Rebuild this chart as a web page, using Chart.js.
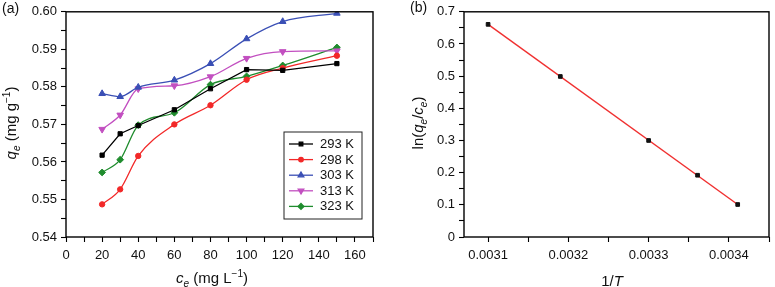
<!DOCTYPE html>
<html>
<head>
<meta charset="utf-8">
<script src="https://cdn.jsdelivr.net/npm/chart.js@4.4.0/dist/chart.umd.min.js"></script>
<style>
  body { margin: 0; background: #fff; }
  #wrap { position: relative; width: 775px; height: 287px; }
  .pane { position: absolute; top: 0; height: 287px; }
</style>
</head>
<body>
<div id="wrap">
  <div class="pane" style="left:0;width:390px"><canvas id="chartA" width="390" height="287"></canvas></div>
  <div class="pane" style="left:390px;width:385px"><canvas id="chartB" width="385" height="287"></canvas></div>
</div>
<script>
// (a) qe vs ce for each temperature
const ce = [20, 30, 40, 60, 80, 100, 120, 150];
const q293 = [0.5618, 0.5675, 0.5697, 0.5739, 0.5795, 0.5846, 0.5844, 0.5862];
const q298 = [0.5487, 0.5527, 0.5616, 0.5700, 0.5751, 0.5819, 0.5850, 0.5883];
const q303 = [0.5782, 0.5774, 0.5799, 0.5818, 0.5862, 0.5928, 0.5974, 0.5996];
const q313 = [0.5687, 0.5725, 0.5795, 0.5803, 0.5827, 0.5876, 0.5894, 0.5896];
const q323 = [0.5572, 0.5606, 0.5698, 0.5731, 0.5806, 0.5828, 0.5857, 0.5905];
const tempLabels = ['293 K', '298 K', '303 K', '313 K', '323 K'];

// (b) ln(qe/ce) vs 1/T
const invT = [0.00310, 0.00319, 0.00330, 0.003361, 0.003411];
const lnK = [0.661, 0.499, 0.300, 0.192, 0.101];

// tick labels
const aXLabels = [0, 20, 40, 60, 80, 100, 120, 140, 160];
const aYLabels = [0.54, 0.55, 0.56, 0.57, 0.58, 0.59, 0.60];
const bXLabels = [0.0031, 0.0032, 0.0033, 0.0034];
const bYLabels = [0, 0.1, 0.2, 0.3, 0.4, 0.5, 0.6, 0.7];

const FONT = '"Liberation Sans", Arial, Helvetica, sans-serif';
const TXT = '#111';

// build minor+major tick list between lo and hi (in steps)
function tickList(lo, n, step, dec) {
  let out = [];
  for (let i = 0; i <= n; i++) out.push({ value: +(lo + i * step).toFixed(dec) });
  return out;
}
function isLabel(v, arr) {
  return arr.some(a => Math.abs(a - v) < 1e-9);
}

// draws text made of styled pieces (italic / sub / sup), centred on x,y
function drawRich(ctx, parts, x, y, size, rotate) {
  ctx.save();
  ctx.translate(x, y);
  if (rotate) ctx.rotate(-Math.PI / 2);
  const fontFor = p => (p.i ? 'italic ' : '') + (p.s ? Math.round(size * 0.68) : size) + 'px ' + FONT;
  let total = 0;
  parts.forEach(p => { ctx.font = fontFor(p); p.w = ctx.measureText(p.t).width; total += p.w; });
  let cx = -total / 2;
  ctx.textBaseline = 'alphabetic';
  ctx.textAlign = 'left';
  ctx.fillStyle = TXT;
  parts.forEach(p => {
    ctx.font = fontFor(p);
    const dy = p.s === 'sub' ? size * 0.22 : (p.s === 'sup' ? -size * 0.42 : 0);
    ctx.fillText(p.t, cx, size * 0.36 + dy);
    cx += p.w;
  });
  ctx.restore();
}

function frame(ctx, area) {
  ctx.save();
  ctx.strokeStyle = '#000';
  ctx.lineWidth = 1.4;
  ctx.strokeRect(area.left, area.top, area.right - area.left, area.bottom - area.top);
  ctx.restore();
}

function axisOpts(min, max, ticks, labels, fmt, fitFn, pad) {
  return {
    type: 'linear',
    min: min, max: max,
    afterBuildTicks: s => { s.ticks = ticks; },
    afterFit: fitFn,
    border: { display: false },
    grid: { drawOnChartArea: false, drawTicks: true, tickLength: 5, tickColor: '#000', tickWidth: 1.1 },
    ticks: {
      autoSkip: false, maxRotation: 0, padding: pad,
      color: TXT, font: { family: FONT, size: 13 },
      callback: v => isLabel(v, labels) ? fmt(v) : ''
    }
  };
}

const colors = ['#000000', '#f22828', '#3a4fb5', '#c24fc0', '#1f8c2d'];
const styles = [
  { pointStyle: 'rect', r: 3, rot: 0 },
  { pointStyle: 'circle', r: 2.7, rot: 0 },
  { pointStyle: 'triangle', r: 3.8, rot: 0 },
  { pointStyle: 'triangle', r: 3.8, rot: 180 },
  { pointStyle: 'rectRot', r: 3.4, rot: 0 }
];
const tensions = [0, 0.35, 0.35, 0.35, 0.25];
const series = [q293, q298, q303, q313, q323];

const datasetsA = series.map((arr, k) => ({
  label: tempLabels[k],
  data: ce.map((x, i) => ({ x: x, y: arr[i] })),
  borderColor: colors[k],
  backgroundColor: colors[k],
  borderWidth: 1.3,
  pointStyle: styles[k].pointStyle,
  pointRadius: styles[k].r,
  pointRotation: styles[k].rot,
  pointBorderWidth: 1,
  tension: tensions[k],
  cubicInterpolationMode: k === 0 ? 'default' : 'monotone'
}));

const decorA = {
  id: 'decorA',
  afterDatasetsDraw(chart) {
    const ctx = chart.ctx;
    frame(ctx, chart.chartArea);
    // legend box
    const bx = 284, by = 132, bw = 78, bh = 87;
    ctx.save();
    ctx.fillStyle = '#fff';
    ctx.fillRect(bx, by, bw, bh);
    ctx.strokeStyle = '#222';
    ctx.lineWidth = 1;
    ctx.strokeRect(bx, by, bw, bh);
    chart.data.datasets.forEach((ds, k) => {
      const yy = by + 12 + k * 15.6;
      ctx.strokeStyle = ds.borderColor;
      ctx.fillStyle = ds.backgroundColor;
      ctx.lineWidth = 1.3;
      ctx.beginPath(); ctx.moveTo(289, yy); ctx.lineTo(313, yy); ctx.stroke();
      Chart.helpers.drawPoint(ctx, { pointStyle: ds.pointStyle, radius: ds.pointRadius * 0.85, rotation: ds.pointRotation, borderWidth: 1 }, 301, yy);
      ctx.fillStyle = TXT;
      ctx.font = '13px ' + FONT;
      ctx.textBaseline = 'middle';
      ctx.textAlign = 'left';
      ctx.fillText(ds.label, 320, yy + 0.5);
    });
    ctx.font = '14px ' + FONT;
    ctx.fillText('(a)', 2, 9);
    ctx.restore();
    drawRich(ctx, [{ t: 'q', i: 1 }, { t: 'e', i: 1, s: 'sub' }, { t: ' (mg g' }, { t: '\u22121', s: 'sup' }, { t: ')' }], 11, 123, 15, true);
    drawRich(ctx, [{ t: 'c', i: 1 }, { t: 'e', i: 1, s: 'sub' }, { t: ' (mg L' }, { t: '\u22121', s: 'sup' }, { t: ')' }], 212, 278, 15, false);
  }
};

new Chart(document.getElementById('chartA'), {
  type: 'line',
  data: { datasets: datasetsA },
  options: {
    responsive: false,
    animation: false,
    layout: { padding: { top: 10, right: 17, left: 0, bottom: 0 } },
    plugins: { legend: { display: false }, tooltip: { enabled: false } },
    scales: {
      x: axisOpts(0, 170, tickList(0, 17, 10, 0), aXLabels, v => String(v), s => { s.height = 50; }, 6),
      y: axisOpts(0.54, 0.60, tickList(0.54, 12, 0.005, 4), aYLabels, v => v.toFixed(2), s => { s.width = 66; }, 4)
    }
  },
  plugins: [decorA]
});

// least squares line through the (b) points
const n = invT.length;
const mx = invT.reduce((a, b) => a + b, 0) / n;
const my = lnK.reduce((a, b) => a + b, 0) / n;
let sxy = 0, sxx = 0;
for (let i = 0; i < n; i++) { sxy += (invT[i] - mx) * (lnK[i] - my); sxx += (invT[i] - mx) ** 2; }
const slope = sxy / sxx, icpt = my - slope * mx;
const xLo = Math.min(...invT), xHi = Math.max(...invT);

const decorB = {
  id: 'decorB',
  afterDatasetsDraw(chart) {
    const ctx = chart.ctx;
    frame(ctx, chart.chartArea);
    ctx.save();
    ctx.fillStyle = TXT;
    ctx.font = '14px ' + FONT;
    ctx.textBaseline = 'middle';
    ctx.fillText('(b)', 20, 8);
    ctx.restore();
    drawRich(ctx, [{ t: 'ln(' }, { t: 'q', i: 1 }, { t: 'e', i: 1, s: 'sub' }, { t: '/' }, { t: 'c', i: 1 }, { t: 'e', i: 1, s: 'sub' }, { t: ')' }], 28, 123, 15, true);
    drawRich(ctx, [{ t: '1/' }, { t: 'T', i: 1 }], 222, 281, 15, false);
  }
};

new Chart(document.getElementById('chartB'), {
  type: 'line',
  data: {
    datasets: [
      {
        data: invT.map((x, i) => ({ x: x, y: lnK[i] })),
        showLine: false,
        pointStyle: 'rect',
        pointRadius: 2.6,
        backgroundColor: '#111',
        borderColor: '#111',
        pointBorderWidth: 1
      },
      {
        data: [{ x: xLo, y: slope * xLo + icpt }, { x: xHi, y: slope * xHi + icpt }],
        borderColor: '#f03030',
        borderWidth: 1.4,
        pointRadius: 0
      }
    ]
  },
  options: {
    responsive: false,
    animation: false,
    layout: { padding: { top: 11, right: 2, left: 0, bottom: 0 } },
    plugins: { legend: { display: false }, tooltip: { enabled: false } },
    scales: {
      x: axisOpts(0.00307, 0.00345, tickList(0.0031, 7, 0.00005, 6), bXLabels, v => v.toFixed(4), s => { s.height = 50; }, 6),
      y: axisOpts(0, 0.7, tickList(0, 14, 0.05, 3), bYLabels, v => v === 0 ? '0' : v.toFixed(1), s => { s.width = 74; }, 4)
    }
  },
  plugins: [decorB]
});
</script>
</body>
</html>
